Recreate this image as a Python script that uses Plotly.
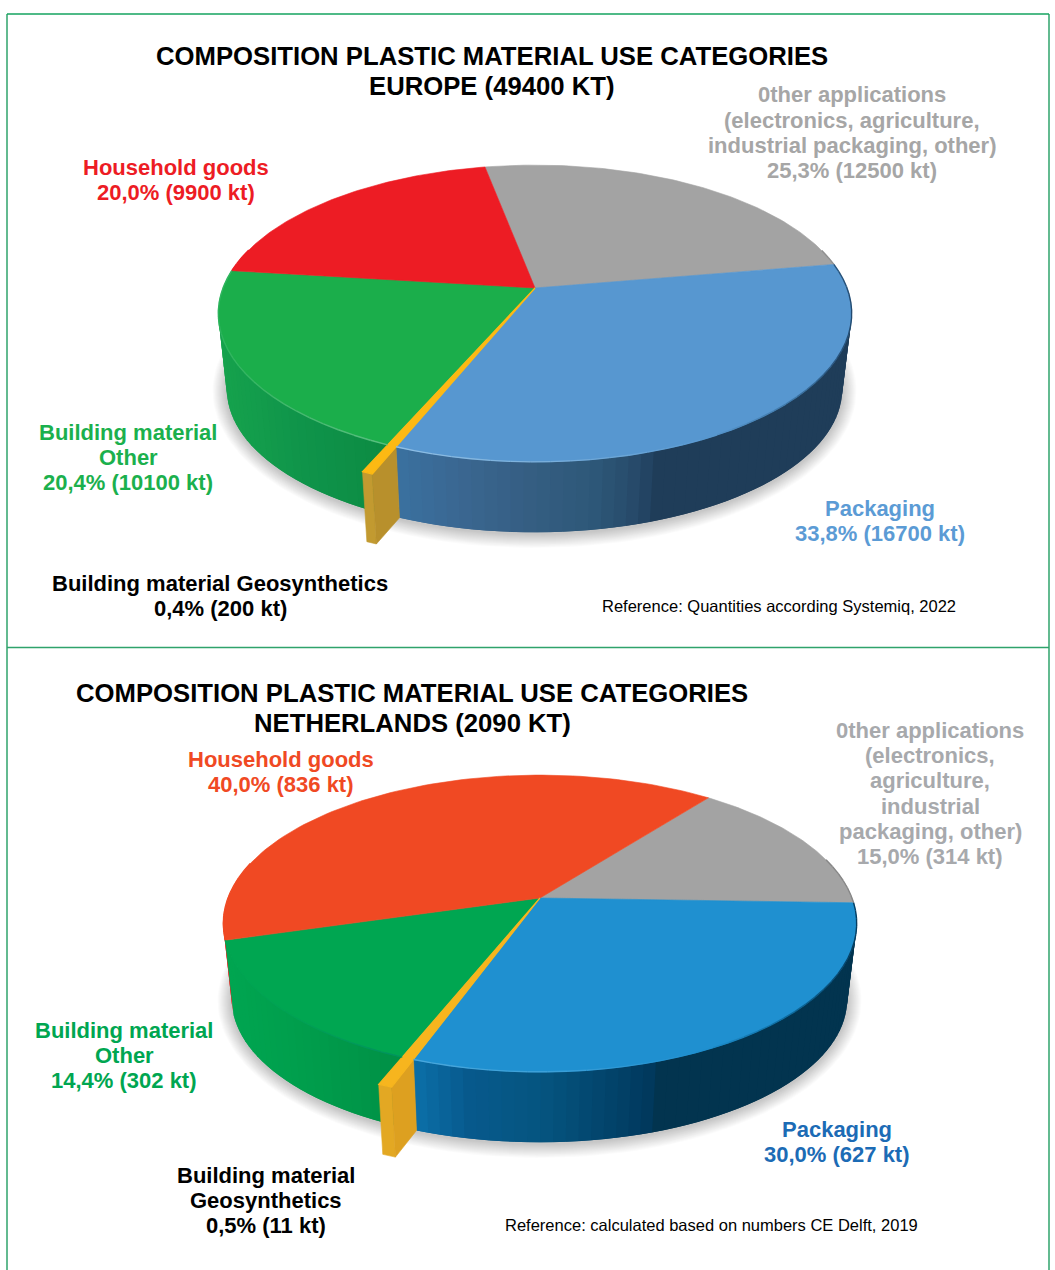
import numpy as np
import plotly.graph_objects as go

# ---------- data ----------
categories = ["Other applications", "Packaging", "Building material Geosynthetics",
              "Building material Other", "Household goods"]
values_europe = [12500, 16700, 200, 10100, 9900]      # kt
values_netherlands = [314, 627, 11, 302, 836]         # kt

title_europe = ["COMPOSITION PLASTIC MATERIAL USE CATEGORIES", "EUROPE (49400 KT)"]
title_netherlands = ["COMPOSITION PLASTIC MATERIAL USE CATEGORIES", "NETHERLANDS (2090 KT)"]

labels_europe = {
    "other": ["0ther applications", "(electronics, agriculture,", "industrial packaging, other)", "25,3% (12500 kt)"],
    "household": ["Household goods", "20,0% (9900 kt)"],
    "building": ["Building material", "Other", "20,4% (10100 kt)"],
    "packaging": ["Packaging", "33,8% (16700 kt)"],
    "geo": ["Building material Geosynthetics", "0,4% (200 kt)"],
}
labels_netherlands = {
    "other": ["0ther applications", "(electronics,", "agriculture,", "industrial", "packaging, other)", "15,0% (314 kt)"],
    "household": ["Household goods", "40,0% (836 kt)"],
    "building": ["Building material", "Other", "14,4% (302 kt)"],
    "packaging": ["Packaging", "30,0% (627 kt)"],
    "geo": ["Building material", "Geosynthetics", "0,5% (11 kt)"],
}
reference_europe = "Reference: Quantities according Systemiq, 2022"
reference_netherlands = "Reference: calculated based on numbers CE Delft, 2019"

FONT = "Liberation Sans"
FRAME = "#2fa36b"

# ---------- styles ----------
style_eu = dict(
    top=["#a3a3a3", "#5797d0", "#fdb913", "#1bae4b", "#ed1c24"],
    wall={
        0: [(0, "#7d7d7d"), (1055, "#7d7d7d")],
        1: [(398, "#3a719f"), (460, "#3a6791"), (520, "#365f84"), (600, "#2d5777"),
            (645, "#254666"), (655, "#1f3d59"), (860, "#1f3d59")],
        3: [(215, "#16a34d"), (300, "#0f944a"), (400, "#0c8a42")],
        4: [(0, "#b5161c"), (1055, "#b5161c")],
    },
    rim={
        1: [(398, "#8fbfe4"), (560, "#78aedb"), (700, "#5a9ad2"), (790, "#3f78a8"), (860, "#1f4468")],
        3: [(215, "#2cb45c"), (300, "#45b86f"), (400, "#5cc082")],
        0: [(0, "#a3a3a3"), (1055, "#8a8a8a")],
        4: [(0, "#ed1c24"), (1055, "#ed1c24")],
    },
    gold_face="#b8902c", gold_front="#c29a30", gold_top="#fdb913",
)
style_nl = dict(
    top=["#a3a3a3", "#1f90d0", "#f7b51e", "#00a651", "#f04923"],
    wall={
        0: [(0, "#7d7d7d"), (1055, "#7d7d7d")],
        1: [(414, "#0b6fa8"), (470, "#07598c"), (540, "#055580"), (620, "#024168"),
            (650, "#01395d"), (660, "#02344f"), (860, "#02344f")],
        3: [(220, "#00a651"), (300, "#009e4c"), (415, "#008e45")],
        4: [(0, "#d8322a"), (1055, "#d8322a")],
    },
    rim={
        1: [(414, "#4aa8dc"), (560, "#3a9fd8"), (700, "#1f90d0"), (790, "#0f6a9c"), (860, "#053a5c")],
        3: [(220, "#00a651"), (300, "#00a055"), (415, "#009060")],
        0: [(0, "#a3a3a3"), (1055, "#7f7f7f")],
        4: [(0, "#f04923"), (1055, "#f04923")],
    },
    gold_face="#dda020", gold_front="#e3a823", gold_top="#f7b51e",
)


def hex2rgb(c):
    return np.array([int(c[i:i + 2], 16) for i in (1, 3, 5)], float)


def ramp(stops, x):
    xs = [s[0] for s in stops]
    cs = np.array([hex2rgb(s[1]) for s in stops])
    rgb = [np.interp(x, xs, cs[:, i]) for i in range(3)]
    return "rgb(%d,%d,%d)" % tuple(int(round(v)) for v in rgb)


fig = go.Figure()


def poly(xs, ys, fill, line=None, lw=0.6):
    fig.add_trace(go.Scatter(x=list(xs), y=list(ys), mode="lines", fill="toself",
                             fillcolor=fill, line=dict(color=line or fill, width=lw),
                             hoverinfo="skip", showlegend=False))


def stroke(xs, ys, color, width):
    fig.add_trace(go.Scatter(x=list(xs), y=list(ys), mode="lines",
                             line=dict(color=color, width=width),
                             hoverinfo="skip", showlegend=False))


def text_block(cx, y0, lines, color, size=22, leading=25.3, bold=True):
    for i, line in enumerate(lines):
        fig.add_annotation(x=cx, y=y0 + i * leading, xref="x", yref="y", text=line,
                           showarrow=False, xanchor="center", yanchor="middle",
                           font=dict(family=FONT, size=size, color=color,
                                     weight="bold" if bold else "normal"))


def draw_pie(values, start_deg, cx, apex_y, style):
    # perspective of a horizontal disc: centre projects to the apex
    k, a, b = 0.1717, 312.0, 144.0
    rx, ry = 317.0, 148.5
    ecy = apex_y + 25.0
    rx2, ry2 = 308.0, 143.0
    ecy2 = ecy + 76.0
    ecx2 = cx - 0.5

    def top(r, th):
        x, y = r * np.cos(th), r * np.sin(th)
        w = 1 + k * y
        return cx + a * x / w, apex_y - b * y / w

    def bottom(px, py):
        return ecx2 + (px - cx) / rx * rx2, ecy2 + (py - ecy) / ry * ry2

    fr = np.array(values, float) / np.sum(values)
    edges = np.radians(start_deg) - np.concatenate([[0], np.cumsum(fr)]) * 2 * np.pi

    # soft shadow
    t = np.linspace(0, 2 * np.pi, 160)
    for e in range(1, 15):
        poly(ecx2 + (rx2 + e) * np.cos(t), ecy2 + 2 + (ry2 + e) * np.sin(t),
             "rgba(0,0,0,0.014)", lw=0)

    # side walls: bands painted over one another so that no seam shows
    for i in (0, 4, 3, 1):
        th0, th1 = edges[i], edges[i + 1]
        n = max(2, int(abs(th1 - th0) / np.radians(2.0)))
        ths = np.linspace(th0, th1, n + 1)
        for j in range(n):
            last = min(j + 2, n)
            seg = np.linspace(ths[j], ths[last], 5)
            px, py = top(1.0, seg)
            if np.all(py < ecy - 2):
                continue
            qx, qy = bottom(px, py)
            mid = top(1.0, 0.5 * (ths[j] + ths[j + 1]))[0]
            poly(np.r_[px, qx[::-1], px[0]], np.r_[py, qy[::-1], py[0]],
                 ramp(style["wall"][i], float(mid)), lw=0)

    # exploded thin slice: faces
    g0, g1 = edges[2], edges[3]
    out = 1.14
    ox0, oy0 = top(out, g0)
    ox1, oy1 = top(out, g1)
    ix0, iy0 = top(1.0, g0)
    bx0, by0 = bottom(ox0, oy0)
    bx1, by1 = bottom(ox1, oy1)
    cx0, cy0 = bottom(ix0, iy0)
    poly([ox1, ox0, bx0, bx1, ox1], [oy1, oy0, by0, by1, oy1], style["gold_front"])
    poly([ox0, ix0, cx0, bx0, ox0], [oy0, iy0, cy0, by0, oy0], style["gold_face"])

    # top faces
    for i in (0, 1, 3, 4):
        ths = np.linspace(edges[i], edges[i + 1], 90)
        px, py = top(1.0, ths)
        poly(np.r_[cx, px, cx], np.r_[apex_y, py, apex_y], style["top"][i])

    # gold wedge on top
    ths = np.array([g0, g1])
    px, py = top(out, ths)
    poly([cx, px[0], px[1], cx], [apex_y, py[0], py[1], apex_y], style["gold_top"], lw=1.2)

    # rim highlight
    for i in (0, 4, 3, 1):
        th0, th1 = edges[i], edges[i + 1]
        n = max(2, int(abs(th1 - th0) / np.radians(3)))
        ths = np.linspace(th0, th1, n + 1)
        for j in range(n):
            seg = np.linspace(ths[j], ths[j + 1], 3)
            px, py = top(1.0, seg)
            if np.all(py < ecy - 0.4 * ry):
                continue
            stroke(px, py, ramp(style["rim"][i], float(px.mean())), 1.4)


# ---------- panels ----------
draw_pie(values_europe, 100.8, 535.0, 288.0, style_eu)
draw_pie(values_netherlands, 52.2, 540.0, 898.0, style_nl)

# frame
stroke([7, 7], [14, 1270], FRAME, 1.5)
stroke([1049, 1049], [14, 1270], FRAME, 1.5)
stroke([7, 1049], [14, 14], "#15a35f", 1.5)
stroke([7, 1049], [647.5, 647.5], FRAME, 1.5)

# ---------- texts ----------
text_block(492, 56, title_europe, "#000000", size=25.7, leading=29.5)
text_block(852, 94.7, labels_europe["other"], "#a6a6a6")
text_block(175.5, 167, labels_europe["household"], "#ed1c24")
text_block(128, 432, labels_europe["building"], "#1bb04d")
text_block(880, 508, labels_europe["packaging"], "#5b9bd5")
text_block(220, 583, labels_europe["geo"], "#000000")
text_block(779, 606, [reference_europe], "#000000", size=16.5, bold=False)

text_block(412, 693, title_netherlands, "#000000", size=25.7, leading=29.5)
text_block(930, 730.2, labels_netherlands["other"], "#a7a9ac")
text_block(281, 759, labels_netherlands["household"], "#f04923")
text_block(124, 1030, labels_netherlands["building"], "#00a651")
text_block(837, 1129, labels_netherlands["packaging"], "#1c6bb5")
text_block(266, 1175, labels_netherlands["geo"], "#000000")
text_block(711, 1225, [reference_netherlands], "#000000", size=16.5, bold=False)

fig.update_layout(
    width=1055, height=1270, margin=dict(l=0, r=0, t=0, b=0),
    paper_bgcolor="#ffffff", plot_bgcolor="#ffffff", showlegend=False,
    xaxis=dict(range=[0, 1055], visible=False, fixedrange=True),
    yaxis=dict(range=[1270, 0], visible=False, fixedrange=True),
)
fig.write_html("out.html", config=dict(displayModeBar=False),
               post_script="document.body.style.margin='0';document.documentElement.style.overflow='hidden';")
